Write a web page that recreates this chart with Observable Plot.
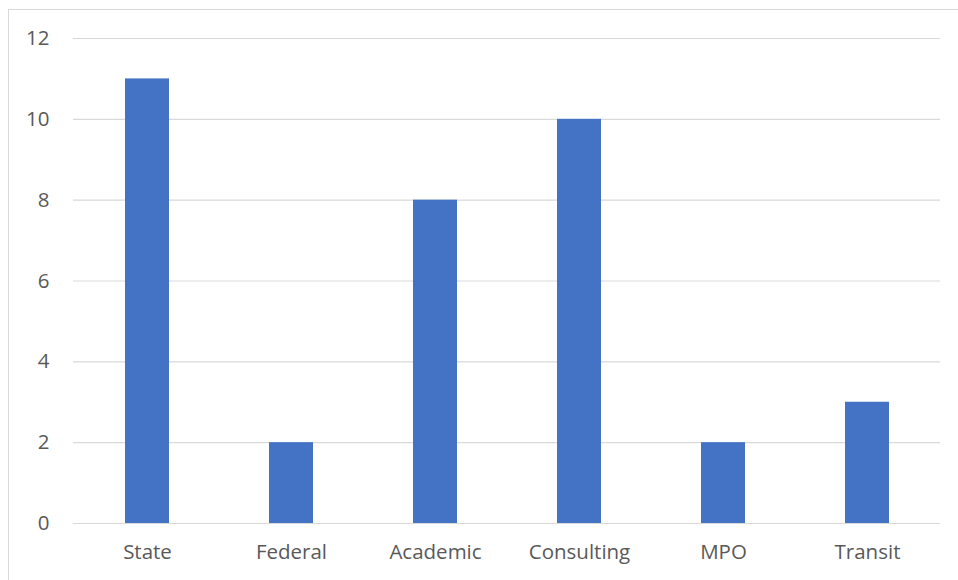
<!DOCTYPE html>
<html>
<head>
<meta charset="utf-8">
<script src="https://cdn.jsdelivr.net/npm/d3@7"></script>
<script src="https://cdn.jsdelivr.net/npm/@observablehq/plot@0.6"></script>
<style>
  html, body { margin: 0; padding: 0; background: #fff; overflow: hidden; }
  #wrap { position: relative; width: 958px; height: 580px; }
  #border { position: absolute; left: 8px; top: 9px; width: 960px; height: 600px;
            border: 1px solid #d9d9d9; box-sizing: border-box; }
  #chart { position: absolute; left: 0; top: 0; }
</style>
</head>
<body>
<div id="wrap"><div id="border"></div><div id="chart"></div></div>
<script>
const categories = ["State", "Federal", "Academic", "Consulting", "MPO", "Transit"];
const counts = [11, 2, 8, 10, 2, 3];
const yTicks = [0, 2, 4, 6, 8, 10, 12];

const rows = categories.map((c, i) => ({category: c, count: counts[i]}));

const chart = Plot.plot({
  width: 958,
  height: 580,
  marginLeft: 73,
  marginRight: 18,
  marginTop: 38,
  marginBottom: 57,
  style: {fontFamily: "'Open Sans', sans-serif", fontSize: "20.5px", color: "#595959", background: "transparent"},
  x: {domain: categories, paddingInner: 0.695, paddingOuter: 0.3475, label: null, tickSize: 0, tickPadding: 21},
  y: {domain: [0, 12], ticks: yTicks, label: null, tickSize: 0, tickPadding: 24},
  marks: [
    Plot.gridY(yTicks, {stroke: "#d9d9d9", strokeOpacity: 1, strokeWidth: 1.2}),
    Plot.barY(rows, {x: "category", y: "count", fill: "#4472c4"})
  ]
});
document.getElementById("chart").appendChild(chart);
</script>
</body>
</html>
